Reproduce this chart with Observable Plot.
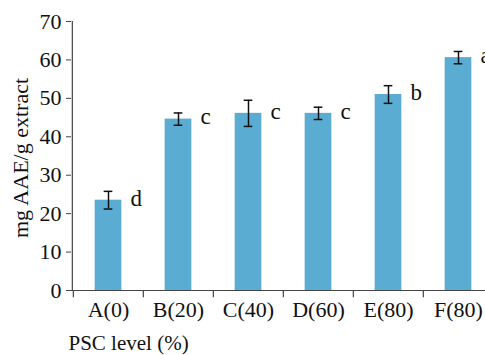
<!DOCTYPE html>
<html>
<head>
<meta charset="utf-8">
<script src="https://cdn.jsdelivr.net/npm/d3@7"></script>
<script src="https://cdn.jsdelivr.net/npm/@observablehq/plot@0.6"></script>
<style>
  html, body { margin: 0; padding: 0; background: #fff; }
  #chart svg { display: block; }
</style>
</head>
<body>
<div id="chart"></div>
<script>
const categories = ["A(0)", "B(20)", "C(40)", "D(60)", "E(80)", "F(80)"];
const means = [23.5, 44.6, 46.1, 46.1, 51.0, 60.6];
const errors = [2.3, 1.6, 3.4, 1.6, 2.3, 1.6];
const letters = ["d", "c", "c", "c", "b", "a"];
const yTicks = [0, 10, 20, 30, 40, 50, 60, 70];
const yLabel = "mg AAE/g extract";
const xLabel = "PSC level (%)";

const data = categories.map((c, i) => ({cat: c, mean: means[i], err: errors[i], letter: letters[i]}));

const W = 485, H = 355;
const xRange = [72, 494];
const band = (xRange[1] - xRange[0]) / categories.length;
const font = "'Liberation Serif', 'Times New Roman', serif";
const axisColor = "#444";

const chart = Plot.plot({
  width: W,
  height: H,
  marginTop: 21,
  marginBottom: 65,
  marginLeft: 71,
  marginRight: 0,
  style: {fontFamily: font, fontSize: "22px", color: "#111", background: "#fff"},
  x: {domain: categories, range: xRange, paddingInner: 0, paddingOuter: 0},
  y: {domain: [0, 70]},
  marks: [
    Plot.barY(data, {x: "cat", y: "mean", fill: "#5bacd3", insetLeft: (band - 27) / 2, insetRight: (band - 27) / 2}),
    Plot.ruleX(data, {x: "cat", y1: d => d.mean - d.err, y2: d => d.mean + d.err, stroke: "#111", strokeWidth: 1.5}),
    Plot.tickY(data, {x: "cat", y: d => d.mean - d.err, stroke: "#111", strokeWidth: 1.5, insetLeft: (band - 9) / 2, insetRight: (band - 9) / 2}),
    Plot.tickY(data, {x: "cat", y: d => d.mean + d.err, stroke: "#111", strokeWidth: 1.5, insetLeft: (band - 9) / 2, insetRight: (band - 9) / 2}),
    Plot.text(data, {x: "cat", y: "mean", text: "letter", dx: 22, dy: -2, textAnchor: "start", fontSize: 23, fill: "#111"}),
    // x axis line
    Plot.ruleY([0], {stroke: axisColor, strokeWidth: 1.2}),
    // y axis line
    Plot.ruleX([categories[0]], {x: d => d, y1: 0, y2: 70, dx: -band / 2 - 1, stroke: axisColor, strokeWidth: 1.2}),
    // band separator ticks below x axis
    Plot.ruleX(categories, {x: d => d, y1: 0, y2: -1.9, dx: -band / 2, stroke: axisColor, strokeWidth: 1.2}),
    Plot.axisY({ticks: yTicks, tickSize: 5, tickPadding: 5, label: null, stroke: axisColor, fontSize: 22}),
    Plot.axisX({tickSize: 0, tickPadding: 11, label: null, fontSize: 22}),
    Plot.text([yLabel], {frameAnchor: "left", text: d => d, rotate: -90, textAnchor: "middle", dx: -51, dy: 2, fontSize: 22, fill: "#111"}),
    Plot.text([xLabel], {frameAnchor: "bottom-left", text: d => d, textAnchor: "start", dx: -3, dy: 59, fontSize: 21, fill: "#111"})
  ]
});

document.getElementById("chart").appendChild(chart);
</script>
</body>
</html>
